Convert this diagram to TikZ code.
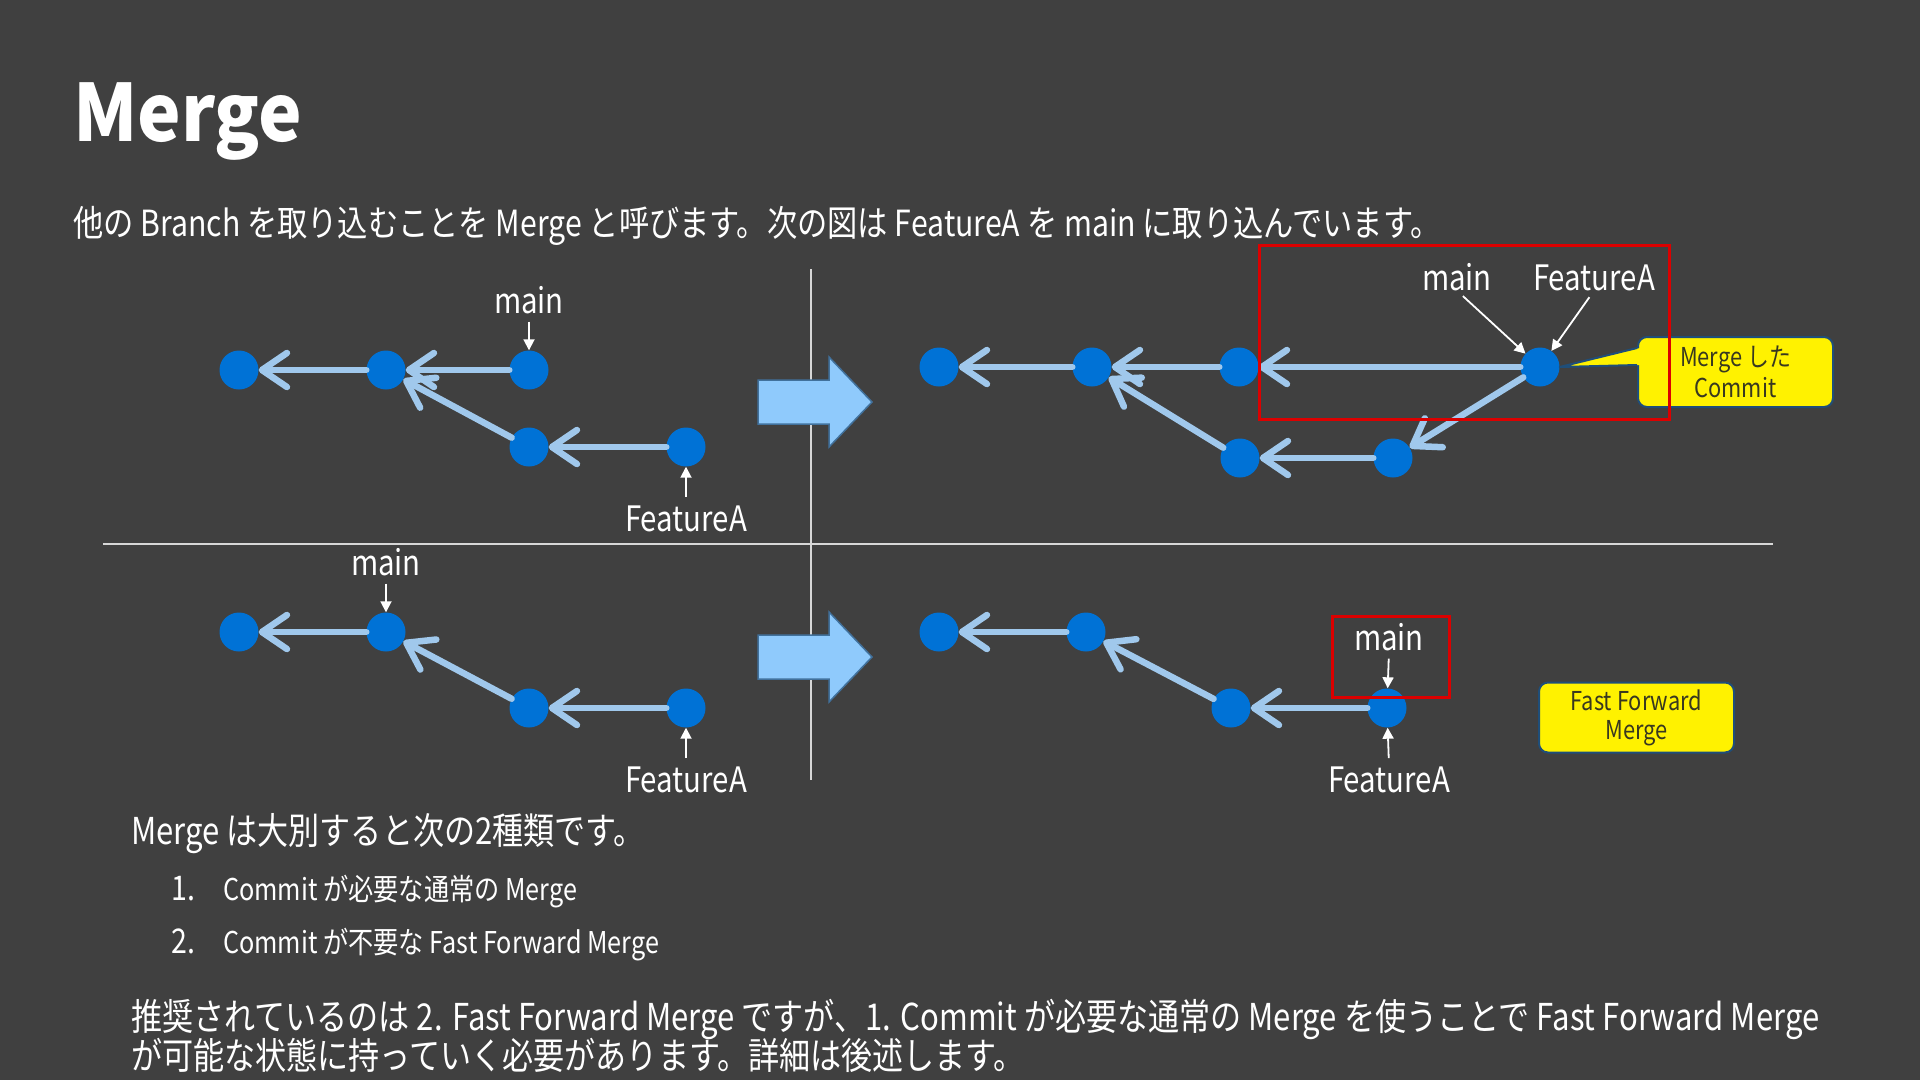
\documentclass[tikz,border=0pt]{standalone}
\usepackage{fontspec}
\setmainfont{Noto Sans CJK JP}[FakeStretch=0.84]
\newfontfamily\titlefont{Noto Sans CJK JP}[FakeStretch=0.93]
\usetikzlibrary{arrows.meta}
\definecolor{slide}{RGB}{64,64,64}
\definecolor{commit}{RGB}{0,114,214}
\definecolor{link}{RGB}{160,200,236}
\definecolor{bigarrow}{RGB}{143,202,252}
\definecolor{bigedge}{RGB}{65,113,156}
\definecolor{redbox}{RGB}{220,0,0}
\definecolor{noteedge}{RGB}{31,78,121}
\definecolor{notetext}{RGB}{56,56,32}
\definecolor{rulegray}{RGB}{215,215,215}
\newcommand{\sz}[2]{\fontsize{#1}{#2}\selectfont}

\begin{document}
\begin{tikzpicture}[x=1pt,y=-1pt,
    cmt/.style={circle,fill=commit,inner sep=0pt,minimum size=39pt},
    lnk/.style={draw=link,line width=6.5pt,line cap=round,
      -{Straight Barb[length=25pt,width=34pt,line cap=round,line join=round]}},
    tag/.style={text=white,inner sep=0pt,font=\sz{35}{40}},
    ptr/.style={draw=white,line width=1.8pt,shorten <=8pt,
      -{Triangle[length=11pt,width=11pt]}},
    hl/.style={draw=redbox,line width=3pt},
    note/.style={fill=yellow,draw=noteedge,line width=2pt,rounded corners=9pt,
      text=notetext,align=center,minimum width=195pt,minimum height=70pt},
    fwd/.style={fill=bigarrow,draw=bigedge,line width=1.5pt},
    rule/.style={draw=rulegray,line width=1.3pt},
    body/.style={text=white,inner sep=0pt,anchor=base west}]
  % ---- slide and texts ----
  \fill[slide] (0,0) rectangle (1920,1080);
  \node[body,font=\titlefont\bfseries\sz{79}{90}] (title) at (73,141) {Merge};
  \node[body,font=\sz{36}{44}] (lead) at (73,236)
    {他の Branch を取り込むことを Merge と呼びます。次の図は FeatureA を main に取り込んでいます。};
  \node[body,font=\sz{37}{44}] (kinds) at (131,844) {Merge は大別すると次の2種類です。};
  \node[body,font=\sz{34}{40}] (n1) at (171,900) {1.};
  \node[body,font=\sz{30}{34}] (k1) at (223,900) {Commit が必要な通常の Merge};
  \node[body,font=\sz{34}{40}] (n2) at (171,953) {2.};
  \node[body,font=\sz{30}{34}] (k2) at (223,953) {Commit が不要な Fast Forward Merge};
  \node[body,font=\sz{37}{44}] (advice1) at (131,1030)
    {推奨されているのは 2. Fast Forward Merge ですが、1. Commit が必要な通常の Merge を使うことで Fast Forward Merge};
  \node[body,font=\sz{37}{44}] (advice2) at (131,1069)
    {が可能な状態に持っていく必要があります。詳細は後述します。};
  % ---- dividers and the two big arrows ----
  \draw[rule] (811,269) -- (811,780);
  \draw[rule] (103,544) -- (1773,544);
  \foreach \y in {402,657}{
    \draw[fwd] (758,\y-22) -- (829,\y-22) -- (829,\y-45) -- (872,\y)
      -- (829,\y+45) -- (829,\y+22) -- (758,\y+22) -- cycle;
  }
  % ---- top left: before the merge ----
  \node[cmt] (a1) at (239,370) {};
  \node[cmt] (a2) at (386,370) {};
  \node[cmt] (a3) at (529,370) {};
  \node[cmt] (b1) at (529,447) {};
  \node[cmt] (b2) at (686,447) {};
  \draw[lnk] (a2)--(a1); \draw[lnk] (a3)--(a2);
  \draw[lnk] (b1)--(a2); \draw[lnk] (b2)--(b1);
  \node[tag,anchor=base] (ma) at (529,313) {main};
  \node[tag,anchor=base] (fa) at (686,531) {FeatureA};
  \draw[ptr] (ma.south) -- (a3);
  \draw[ptr] (fa.north) -- (b2);
  % ---- top right: merge commit ----
  \node[cmt] (c1) at (939,367) {};
  \node[cmt] (c2) at (1092,367) {};
  \node[cmt] (c3) at (1239,367) {};
  \node[cmt] (c4) at (1540,367) {};
  \node[cmt] (d1) at (1240,458) {};
  \node[cmt] (d2) at (1393,458) {};
  \draw[lnk] (c2)--(c1); \draw[lnk] (c3)--(c2); \draw[lnk] (d1)--(c2);
  \draw[lnk] (d2)--(d1); \draw[lnk] (c4)--(c3); \draw[lnk] (c4)--(d2);
  \node[tag,anchor=base] (mc) at (1457,290) {main};
  \node[tag,anchor=base] (fc) at (1594,290) {FeatureA};
  \draw[ptr] (mc.south) -- (c4);
  \draw[ptr] (fc.south) -- (c4);
  \node[note,font=\sz{26}{31}] (merged) at (1735.5,372) {Merge した\\Commit};
  \fill[yellow] (c4.east) -- ([xshift=3pt,yshift=24pt]merged.west)
    -- ([xshift=3pt,yshift=7pt]merged.west) -- cycle;
  \draw[noteedge,line width=2pt,line join=round] ([yshift=24pt]merged.west)
    -- (c4.east) -- ([yshift=7pt]merged.west);
  \draw[hl] (1259,245) rectangle (1669,419);
  % ---- bottom left: before the fast forward ----
  \node[cmt] (e1) at (239,632) {};
  \node[cmt] (e2) at (386,632) {};
  \node[cmt] (f1) at (529,708) {};
  \node[cmt] (f2) at (686,708) {};
  \draw[lnk] (e2)--(e1); \draw[lnk] (f1)--(e2); \draw[lnk] (f2)--(f1);
  \node[tag,anchor=base] (me) at (386,575) {main};
  \node[tag,anchor=base] (fe) at (686,792) {FeatureA};
  \draw[ptr] (me.south) -- (e2);
  \draw[ptr] (fe.north) -- (f2);
  % ---- bottom right: main moved forward ----
  \node[cmt] (g1) at (939,632) {};
  \node[cmt] (g2) at (1086,632) {};
  \node[cmt] (h1) at (1231,708) {};
  \node[cmt] (h2) at (1387,708) {};
  \draw[lnk] (g2)--(g1); \draw[lnk] (h1)--(g2); \draw[lnk] (h2)--(h1);
  \node[tag,anchor=base] (mg) at (1389,650) {main};
  \node[tag,anchor=base] (fg) at (1389,792) {FeatureA};
  \draw[ptr] (mg.south) -- (h2);
  \draw[ptr] (fg.north) -- (h2);
  \draw[hl] (1332,616) rectangle (1449,697);
  \node[note,font=\sz{26}{29}] (ffwd) at (1636.5,717.5) {Fast Forward\\Merge};
\end{tikzpicture}
\end{document}
